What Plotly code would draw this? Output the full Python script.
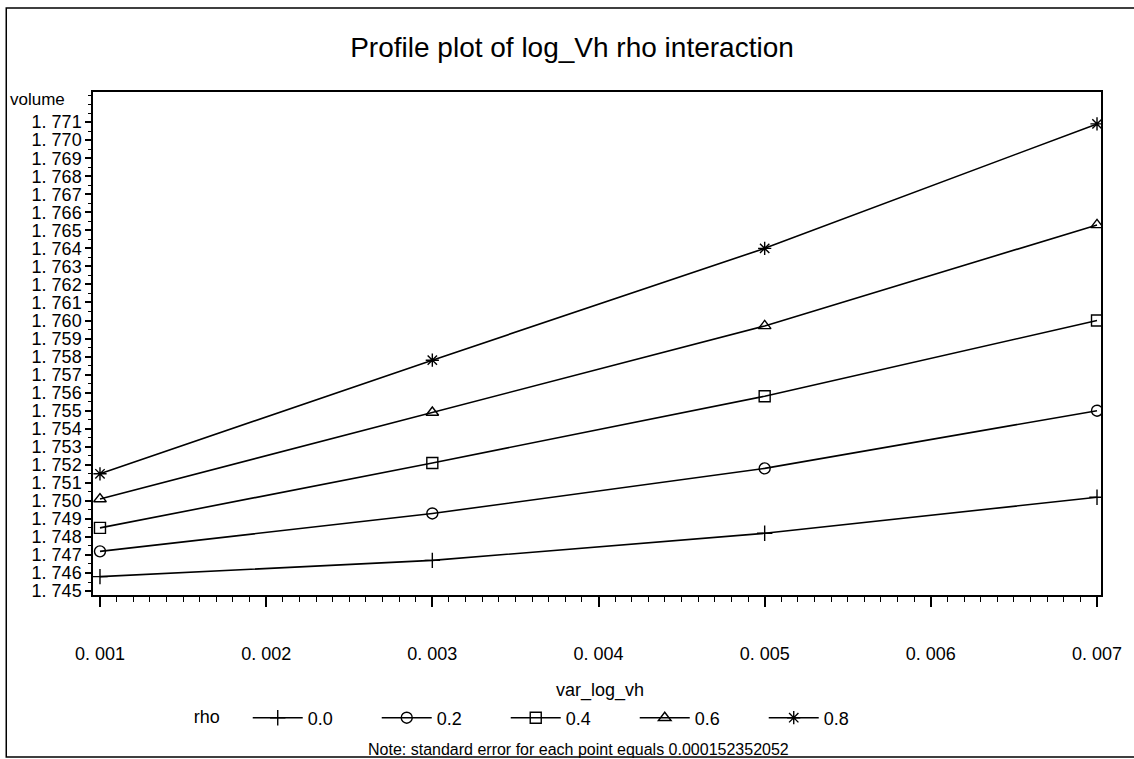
import plotly.graph_objects as go

# ---- data ----
var_log_vh = [0.001, 0.003, 0.005, 0.007]
rho_levels = ["0.0", "0.2", "0.4", "0.6", "0.8"]
volume_rho_00 = [1.7458, 1.7467, 1.7482, 1.7502]
volume_rho_02 = [1.7472, 1.7493, 1.7518, 1.7550]
volume_rho_04 = [1.7485, 1.7521, 1.7558, 1.7600]
volume_rho_06 = [1.7501, 1.7549, 1.7597, 1.7653]
volume_rho_08 = [1.7515, 1.7578, 1.7640, 1.7709]
series = [volume_rho_00, volume_rho_02, volume_rho_04, volume_rho_06, volume_rho_08]

x_tick_vals = [0.001, 0.002, 0.003, 0.004, 0.005, 0.006, 0.007]
x_tick_text = ["0. 001", "0. 002", "0. 003", "0. 004", "0. 005", "0. 006", "0. 007"]
y_tick_vals = [round(1.745 + 0.001 * i, 3) for i in range(27)]
y_tick_text = ["1. " + f"{v:.3f}".split(".")[1] for v in y_tick_vals]

symbols = ["cross-thin-open", "circle-open", "square-open", "triangle-up-open", "asterisk-open"]

FONT = "Liberation Sans, Arial, sans-serif"
W, H = 1134, 759
L, R, T, B = 93, 1104, 92, 595  # plot area in pixels


def px(xp):
    return (xp - L) / (R - L)


def py(yp):
    return (B - yp) / (B - T)


fig = go.Figure()
for lvl, vals, sym in zip(rho_levels, series, symbols):
    fig.add_trace(go.Scatter(
        x=var_log_vh, y=vals, name=lvl, mode="lines+markers",
        line=dict(color="black", width=1.6),
        marker=dict(symbol=sym, size=11, color="black",
                    line=dict(color="black", width=1.4)),
    ))

fig.update_layout(
    width=W, height=H,
    margin=dict(l=L, r=W - R, t=T, b=H - B),
    paper_bgcolor="white", plot_bgcolor="white",
    font=dict(family=FONT, size=18, color="black"),
    title=dict(text="Profile plot of log_Vh rho interaction",
               x=572 / W, xanchor="center", y=1 - 47 / H, yanchor="middle",
               font=dict(family=FONT, size=28, color="black")),
    showlegend=True,
    legend=dict(orientation="h", x=px(192), xanchor="left",
                y=py(718), yanchor="middle",
                title=dict(text="rho    ", font=dict(size=18)),
                font=dict(size=18), itemwidth=50, entrywidth=64,
                bgcolor="rgba(0,0,0,0)"),
)

fig.update_xaxes(
    range=[0.000958, 0.007024], tickvals=x_tick_vals, ticktext=x_tick_text,
    tickfont=dict(size=18),
    showgrid=False, zeroline=False, showline=True, linecolor="black", linewidth=1.5,
    mirror=True, ticks="outside", ticklen=10, tickwidth=1.5, tickcolor="black",
    ticklabelstandoff=32,
    minor=dict(dtick=0.0001, ticks="outside", ticklen=5, tickwidth=1, tickcolor="black"),
)
fig.update_yaxes(
    range=[1.74478, 1.77267], tickvals=y_tick_vals, ticktext=y_tick_text,
    tickfont=dict(size=18),
    showgrid=False, zeroline=False, showline=True, linecolor="black", linewidth=1.5,
    mirror=True, ticks="outside", ticklen=6, tickwidth=1.5, tickcolor="black",
    minor=dict(dtick=0.0005, ticks="outside", ticklen=3, tickwidth=1, tickcolor="black"),
)

fig.add_annotation(text="volume", xref="paper", yref="paper", x=px(8), y=py(100),
                   xanchor="left", yanchor="middle", showarrow=False,
                   font=dict(family=FONT, size=17))
fig.add_annotation(text="var_log_vh", xref="paper", yref="paper", x=px(602), y=py(690),
                   xanchor="center", yanchor="middle", showarrow=False,
                   font=dict(family=FONT, size=18))
fig.add_annotation(text="Note: standard error for each point equals 0.000152352052",
                   xref="paper", yref="paper", x=px(580), y=py(749),
                   xanchor="center", yanchor="middle", showarrow=False,
                   font=dict(family=FONT, size=16))

# outer frame of the graph
fig.add_shape(type="rect", xref="paper", yref="paper",
              x0=px(6), x1=px(1140), y0=py(757), y1=py(8),
              line=dict(color="black", width=1.5), layer="below")

fig.write_html("out.html")
